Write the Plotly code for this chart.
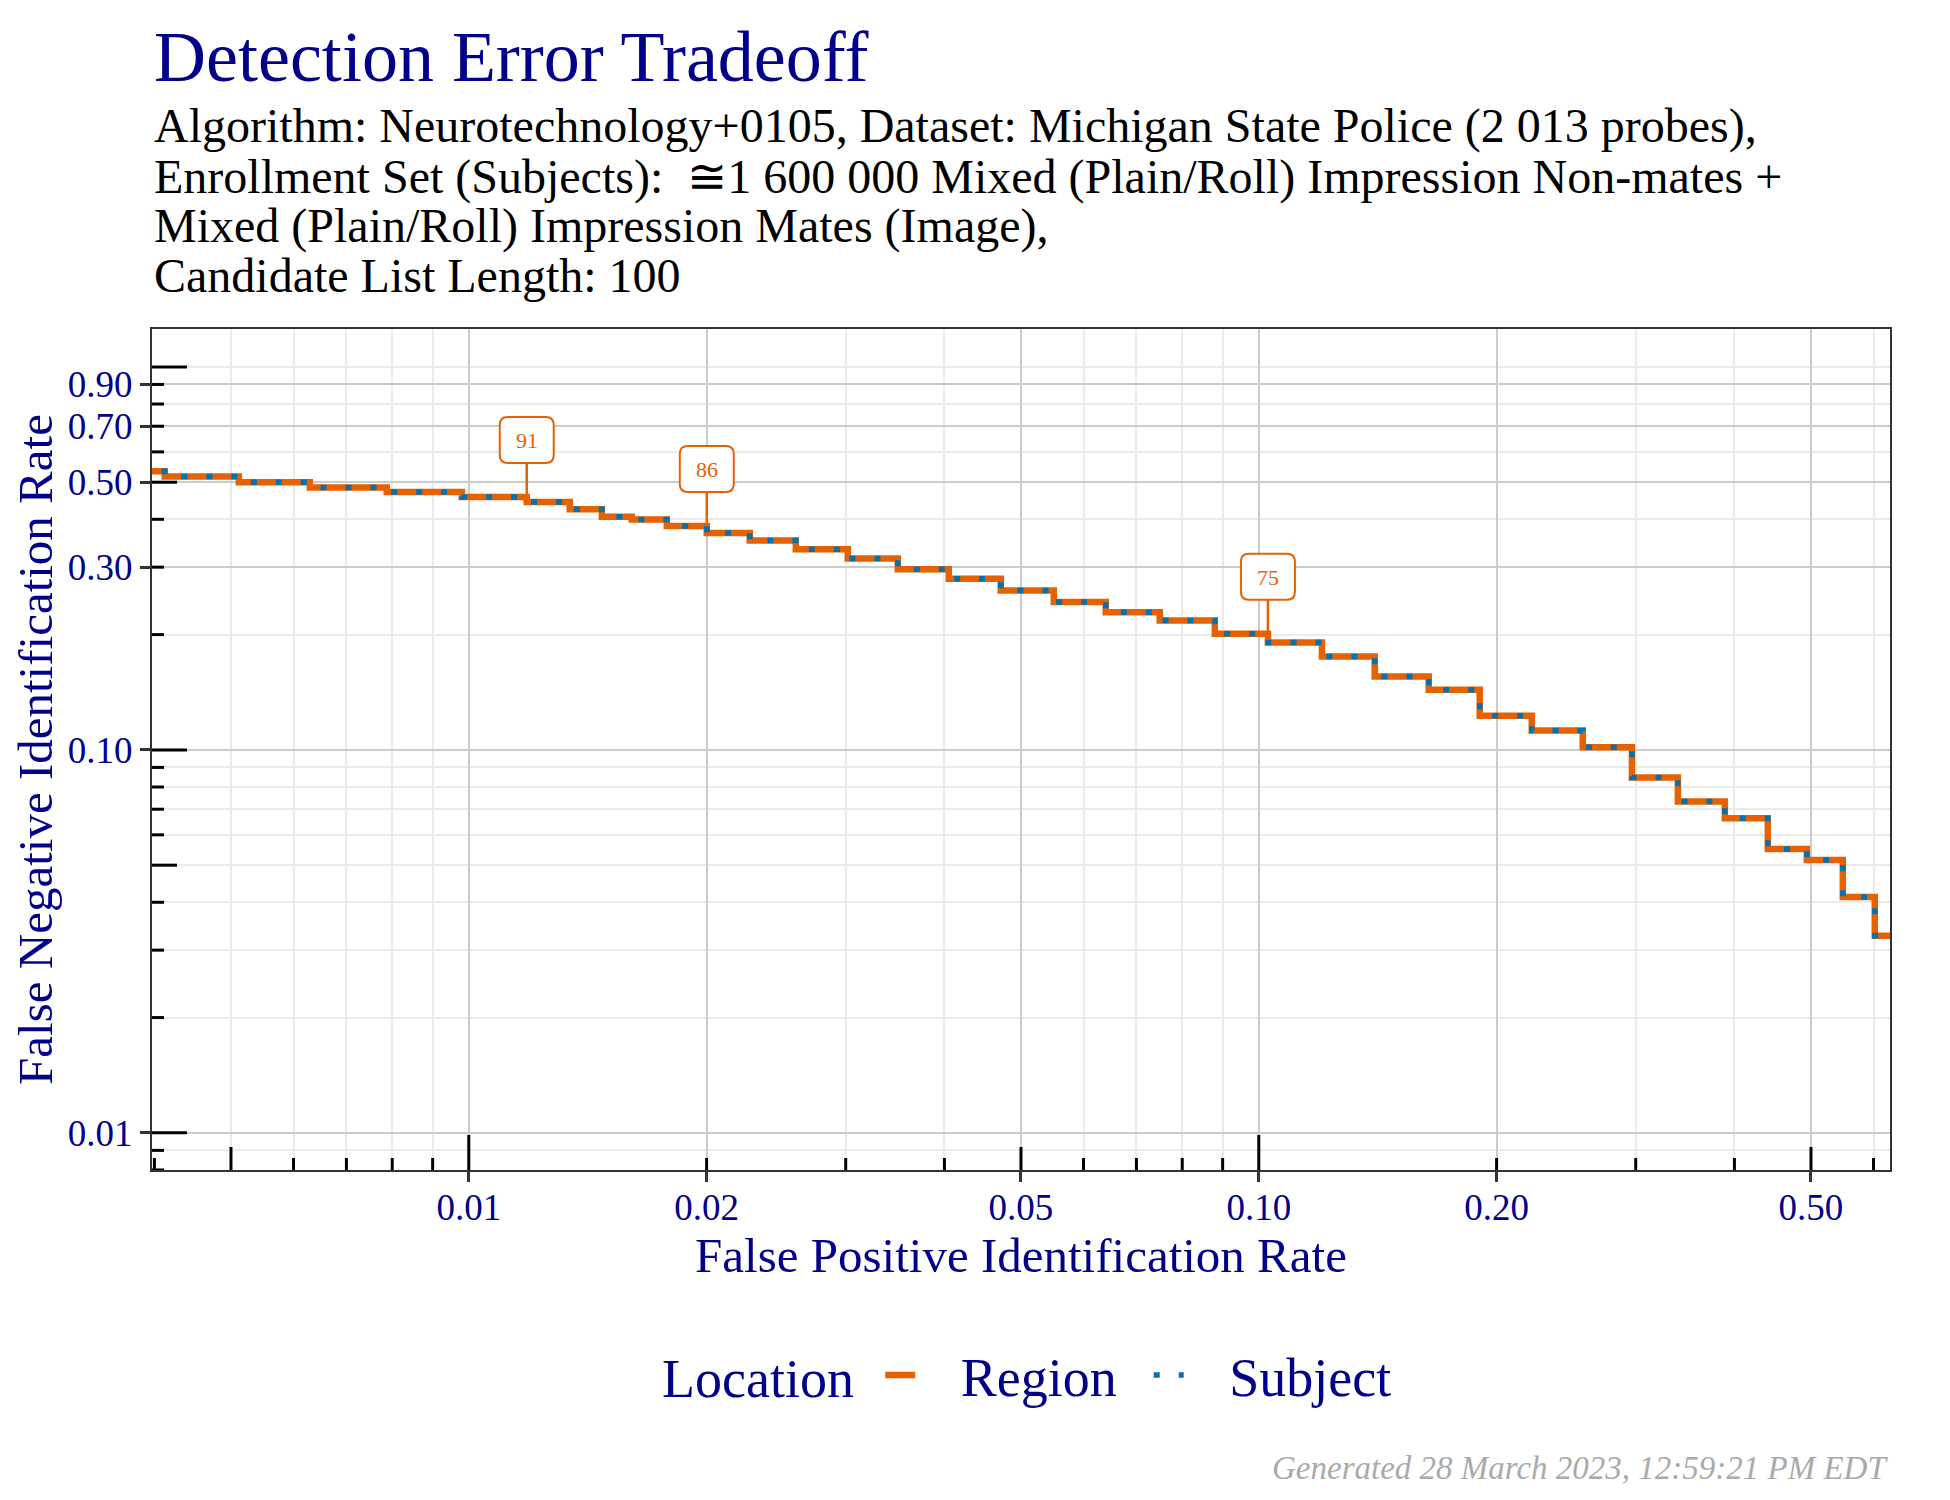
import numpy as np
import plotly.graph_objects as go

# DET step curve (FPIR on x, FNIR on y)
fpir = [0.0038, 0.004122, 0.005116, 0.006291, 0.007873, 0.00980, 0.01184, 0.01342,
        0.01474, 0.01608, 0.01781, 0.02001, 0.02268, 0.02594, 0.03018, 0.03492,
        0.04051, 0.04714, 0.05502, 0.06402, 0.07493, 0.08797, 0.1027, 0.1202,
        0.1402, 0.1641, 0.1904, 0.2216, 0.2571, 0.2967, 0.3392, 0.3890, 0.4409,
        0.4940, 0.5486, 0.6022, 0.65]
fnir = [0.5341, 0.5171, 0.5000, 0.4841, 0.4717, 0.4577, 0.4441, 0.4251, 0.4065,
        0.3993, 0.3845, 0.3686, 0.3519, 0.3342, 0.3159, 0.2963, 0.2796, 0.2606,
        0.2434, 0.2288, 0.2176, 0.2009, 0.1906, 0.1752, 0.1554, 0.1435, 0.1227,
        0.1123, 0.1016, 0.0847, 0.0733, 0.0663, 0.0551, 0.0516, 0.0413, 0.0327,
        0.0327]

# threshold labels on the curve
label_text = ["91", "86", "75"]
label_fpir = [0.01184, 0.02001, 0.1027]
label_fnir = [0.4577, 0.3845, 0.2009]

x_ticks = [0.01, 0.02, 0.05, 0.1, 0.2, 0.5]
x_ticktext = ["0.01", "0.02", "0.05", "0.10", "0.20", "0.50"]
y_ticks = [0.01, 0.1, 0.3, 0.5, 0.7, 0.9]
y_ticktext = ["0.01", "0.10", "0.30", "0.50", "0.70", "0.90"]
x_minor = [0.005, 0.006, 0.007, 0.008, 0.009, 0.03, 0.04, 0.06, 0.07, 0.08, 0.09,
           0.3, 0.4, 0.6]
y_minor = [0.009, 0.02, 0.03, 0.04, 0.05, 0.06, 0.07, 0.08, 0.09,
           0.2, 0.4, 0.6, 0.8, 1.0]

subtitle_lines = [
    "Algorithm: Neurotechnology+0105, Dataset: Michigan State Police (2 013 probes),",
    "Enrollment Set (Subjects):  \u22451 600 000 Mixed (Plain/Roll) Impression Non-mates +",
    "Mixed (Plain/Roll) Impression Mates (Image),",
    "Candidate List Length: 100",
]

ORANGE = "#E66100"
BLUE = "#0072B2"
NAVY = "#00008B"
FONT = "Liberation Serif"
NB = "\u00a0"

fig = go.Figure()

fig.add_trace(go.Scatter(
    x=fpir, y=fnir, mode="lines", line_shape="hv", name=NB * 3 + "Region" + NB * 2,
    line=dict(color=ORANGE, width=6.5)
))
fig.add_trace(go.Scatter(
    x=fpir, y=fnir, mode="lines", line_shape="hv", name=NB * 3 + "Subject",
    line=dict(color=BLUE, width=5.5, dash="6px,19px")
))

shapes = []

# --- threshold labels: rounded box (pixel-sized shape) + stem + text ---
box_path = ("M -19,34 L 19,34 Q 27,34 27,42 L 27,72 Q 27,80 19,80 "
            "L -19,80 Q -27,80 -27,72 L -27,42 Q -27,34 -19,34 Z")
for txt, fx, fy in zip(label_text, label_fpir, label_fnir):
    shapes.append(dict(
        type="path", xref="x", yref="y", xsizemode="pixel", ysizemode="pixel",
        xanchor=fx, yanchor=fy, path=box_path, fillcolor="white",
        line=dict(color=ORANGE, width=2), layer="above"
    ))
    fig.add_annotation(
        x=np.log10(fx), y=np.log10(fy), xref="x", yref="y",
        text=txt, showarrow=True, arrowhead=0, arrowwidth=2.5, arrowcolor=ORANGE,
        ax=0, ay=-57, standoff=0,
        font=dict(family=FONT, size=22, color=ORANGE),
        width=50, height=44, borderpad=0
    )

# --- log ticks inside the panel (like annotation_logticks) ---
x_range = [-2.401, -0.201]
y_range = [-2.097, 0.099]
for k in range(-3, 1):
    for d in range(1, 10):
        v = d * 10.0 ** k
        lv = np.log10(v)
        size = 0.0416 if d == 1 else (0.0274 if d == 5 else 0.0143)
        if x_range[0] - 1e-3 <= lv <= x_range[1]:
            shapes.append(dict(type="line", xref="x", yref="y domain",
                               x0=v, x1=v, y0=0, y1=size,
                               line=dict(color="black", width=3)))
        ysize = 0.0201 if d == 1 else (0.0144 if d == 5 else 0.0069)
        if y_range[0] - 1e-3 <= lv <= y_range[1]:
            shapes.append(dict(type="line", xref="x domain", yref="y",
                               x0=0, x1=ysize, y0=v, y1=v,
                               line=dict(color="black", width=3)))

# --- titles, legend title and footer ---
fig.add_annotation(
    text="Detection Error Tradeoff", xref="paper", yref="paper",
    x=0, y=1.3238, xanchor="left", yanchor="middle", showarrow=False,
    font=dict(family=FONT, size=72, color=NAVY)
)
for line, ypos in zip(subtitle_lines, [1.2410, 1.1811, 1.1225, 1.0638]):
    fig.add_annotation(
        text=line, xref="paper", yref="paper", x=0, y=ypos,
        xanchor="left", yanchor="middle", showarrow=False,
        font=dict(family=FONT, size=48, color="black")
    )
fig.add_annotation(
    text="Location", xref="paper", yref="paper", x=0.3487, y=-0.2488,
    xanchor="center", yanchor="middle", showarrow=False,
    font=dict(family=FONT, size=54, color=NAVY)
)
fig.add_annotation(
    text="Generated 28 March 2023, 12:59:21 PM EDT", xref="paper", yref="paper",
    x=1, y=-0.354, xanchor="right", yanchor="middle", showarrow=False,
    font=dict(family=FONT, size=33, color="#AAAAAA", style="italic")
)

axis_common = dict(
    type="log", showline=True, mirror=True, linecolor="#333333", linewidth=2,
    ticks="outside", ticklen=10, tickwidth=3, tickcolor="#333333",
    showgrid=True, gridcolor="#CCCCCC", gridwidth=2, zeroline=False,
    tickfont=dict(family=FONT, size=37, color=NAVY), automargin=False,
)

fig.update_layout(
    width=1934, height=1484,
    margin=dict(l=144, r=52, t=321, b=322),
    paper_bgcolor="white", plot_bgcolor="white",
    font=dict(family=FONT, color=NAVY),
    xaxis=dict(
        axis_common, range=x_range, tickmode="array", tickvals=x_ticks,
        ticktext=x_ticktext, ticklabelstandoff=-6,
        minor=dict(tickvals=x_minor, showgrid=True, gridcolor="#EBEBEB",
                   gridwidth=1.5, ticks=""),
        title=dict(text="False Positive Identification Rate", standoff=8,
                   font=dict(family=FONT, size=49, color=NAVY)),
    ),
    yaxis=dict(
        axis_common, range=y_range, tickmode="array", tickvals=y_ticks,
        ticktext=y_ticktext, ticklabelstandoff=0,
        minor=dict(tickvals=y_minor, showgrid=True, gridcolor="#EBEBEB",
                   gridwidth=1.5, ticks=""),
        title=dict(text="False Negative Identification Rate", standoff=32,
                   font=dict(family=FONT, size=49, color=NAVY)),
    ),
    legend=dict(
        orientation="h", x=0.419, xanchor="left", y=-0.2443, yanchor="middle",
        font=dict(family=FONT, size=54, color=NAVY),
        itemwidth=30, bgcolor="rgba(0,0,0,0)",
    ),
    shapes=shapes,
)

fig.write_html("out.html")
